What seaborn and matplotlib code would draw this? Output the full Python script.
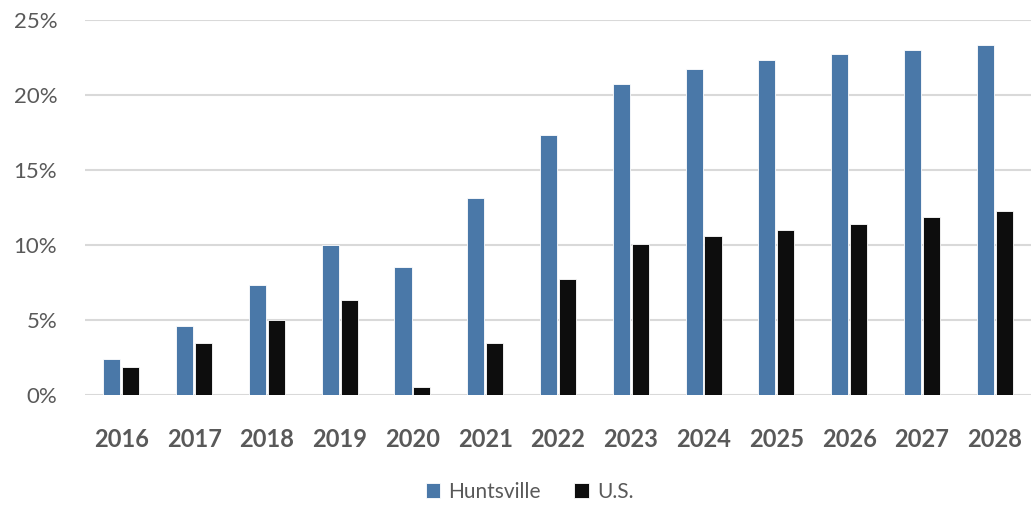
import matplotlib
matplotlib.use("Agg")
import matplotlib.pyplot as plt
import seaborn as sns
import pandas as pd

years = ["2016", "2017", "2018", "2019", "2020", "2021", "2022",
         "2023", "2024", "2025", "2026", "2027", "2028"]
huntsville = [2.4, 4.6, 7.3, 10.0, 8.5, 13.1, 17.3, 20.7, 21.7, 22.3, 22.7, 23.0, 23.3]
us = [1.85, 3.45, 5.0, 6.3, 0.5, 3.45, 7.7, 10.05, 10.6, 11.0, 11.4, 11.85, 12.25]
series = ["Huntsville", "U.S."]
colors = ["#4A78A8", "#0D0D0D"]

df = pd.DataFrame({
    "year": years * 2,
    "value": huntsville + us,
    "series": [series[0]] * len(years) + [series[1]] * len(years),
})

sns.set_theme(style="white")
plt.rcParams["font.family"] = ["Lato", "DejaVu Sans"]

fig = plt.figure(figsize=(10.31, 5.08), dpi=100)
ax = fig.add_axes([85 / 1031, 1 - 395 / 508, 946 / 1031, (395 - 19.5) / 508])

sns.barplot(data=df, x="year", y="value", hue="series", palette=colors,
            saturation=1, width=0.52, gap=0.1, ax=ax, edgecolor="white",
            linewidth=0.6, errorbar=None, zorder=3)

ax.set_ylim(0, 25)
ax.set_xlim(-0.5, len(years) - 0.5)
ax.set_yticks([0, 5, 10, 15, 20, 25])
ax.set_yticklabels([f"{v}%" for v in [0, 5, 10, 15, 20, 25]], fontsize=16, color="#595959")
ax.tick_params(axis="y", length=0, pad=20)
ax.tick_params(axis="x", length=0, pad=24)
for lab in ax.get_xticklabels():
    lab.set_fontsize(17)
    lab.set_fontweight("bold")
    lab.set_color("#595959")
ax.set_xlabel("")
ax.set_ylabel("")
ax.grid(axis="y", color="#D9D9D9", linewidth=1.5, zorder=0)
ax.set_axisbelow(True)
for s in ax.spines.values():
    s.set_visible(False)

leg = ax.legend(loc="lower center", bbox_to_anchor=(0.47, -0.335), ncol=2, frameon=False,
                fontsize=15, handlelength=0.7, handleheight=0.7, handletextpad=0.4,
                columnspacing=1.6)
for t in leg.get_texts():
    t.set_color("#595959")

fig.savefig("out.png", dpi=100)
